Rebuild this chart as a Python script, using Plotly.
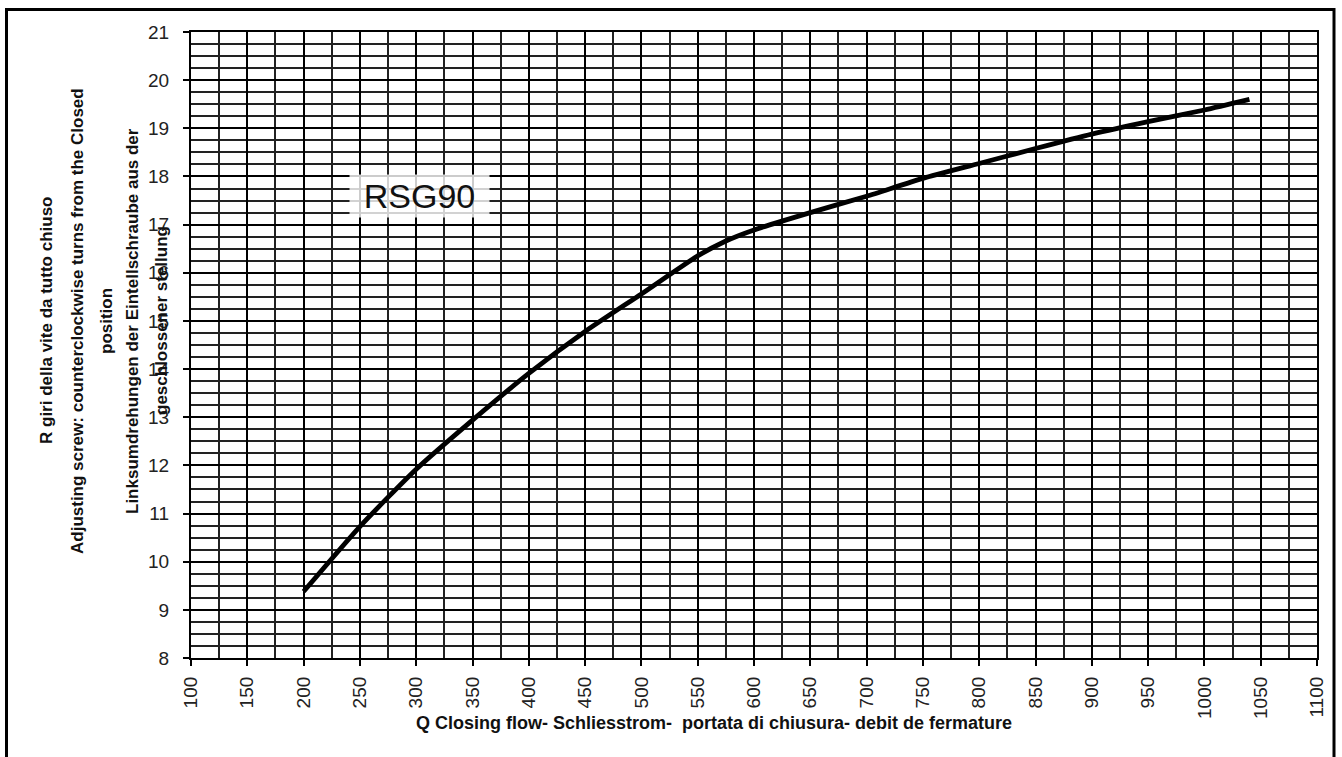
import plotly.graph_objects as go

# Data
flow = [200, 250, 300, 350, 400, 450, 500, 550, 575, 600, 650, 700, 750, 800, 850, 900, 950, 1000, 1040]
turns = [9.38, 10.73, 11.92, 12.94, 13.91, 14.78, 15.56, 16.35, 16.66, 16.89, 17.25, 17.59, 17.96, 18.27, 18.58, 18.88, 19.14, 19.38, 19.60]

x_ticks = list(range(100, 1101, 50))
y_ticks = list(range(8, 22))

y_title_lines = [
    "R giri della vite da tutto chiuso",
    "Adjusting screw: counterclockwise turns from the Closed",
    "position",
    "Linksumdrehungen der Eintellschraube aus der",
    "geschlossener stellung",
]
x_title = "Q Closing flow- Schliesstrom-  portata di chiusura- debit de fermature"
label = "RSG90"

W, H = 1342, 757
L, R, T, B = 191, 25, 32, 99
pw, ph = W - L - R, H - T - B

def px_x(px):
    return (px - L) / pw

def px_y(py):
    return (H - B - py) / ph

FONT = "Liberation Sans, Arial, sans-serif"

fig = go.Figure()
fig.add_trace(go.Scatter(
    x=flow, y=turns, mode="lines",
    line=dict(color="black", width=4.8, shape="spline", smoothing=0.6),
    hoverinfo="skip", showlegend=False,
))

axis_common = dict(
    showline=True, linecolor="black", linewidth=2.2, mirror=True,
    showgrid=True, gridcolor="black", gridwidth=2.2,
    ticks="outside", ticklen=6, tickwidth=2, tickcolor="black",
    tickfont=dict(family=FONT, size=19, color="#222"),
    zeroline=False,
)

fig.update_xaxes(
    range=[100, 1100], tickmode="array", tickvals=x_ticks,
    ticktext=[str(v) for v in x_ticks], tickangle=-90,
    ticklabelstandoff=3,
    minor=dict(dtick=25, showgrid=True, gridcolor="#222", gridwidth=1.6, ticks=""),
    **axis_common,
)
fig.update_yaxes(
    range=[8, 21], tickmode="array", tickvals=y_ticks,
    ticktext=[str(v) for v in y_ticks],
    ticklabelstandoff=10,
    minor=dict(dtick=0.25, showgrid=True, gridcolor="#222", gridwidth=1.6, ticks=""),
    **axis_common,
)

annotations = []
line_px = [47, 78, 107, 133, 162]
for txt, xp in zip(y_title_lines, line_px):
    annotations.append(dict(
        text=f"<b>{txt}</b>", xref="paper", yref="paper",
        x=px_x(xp), y=px_y(321), xanchor="center", yanchor="middle",
        textangle=-90, showarrow=False,
        font=dict(family=FONT, size=17, color="#111"),
    ))
annotations.append(dict(
    text=f"<b>{x_title}</b>", xref="paper", yref="paper",
    x=px_x(714), y=px_y(723), xanchor="center", yanchor="middle",
    showarrow=False, font=dict(family=FONT, size=18, color="#111"),
))
annotations.append(dict(
    text=label, xref="paper", yref="paper",
    x=px_x(419.5), y=px_y(196), xanchor="center", yanchor="middle",
    width=139, height=42, borderpad=0,
    showarrow=False, font=dict(family=FONT, size=34, color="#111"),
    bgcolor="rgba(255,255,255,0.8)",
))

fig.update_layout(
    width=W, height=H,
    margin=dict(l=L, r=R, t=T, b=B),
    paper_bgcolor="white", plot_bgcolor="white",
    annotations=annotations,
    shapes=[dict(
        type="rect", xref="paper", yref="paper",
        x0=px_x(6.5), x1=px_x(1334), y0=px_y(790), y1=px_y(9.5),
        line=dict(color="black", width=3), fillcolor="rgba(0,0,0,0)", layer="above",
    )],
)

fig.write_html("out.html")
